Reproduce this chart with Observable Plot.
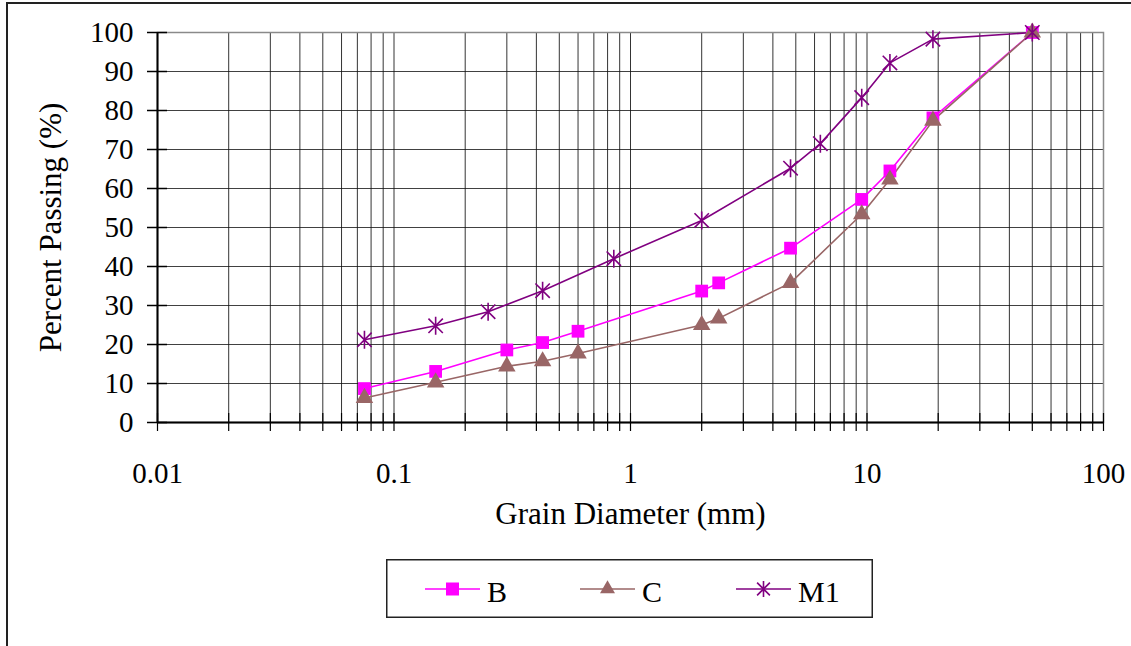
<!DOCTYPE html>
<html>
<head>
<meta charset="utf-8">
<script src="https://cdn.jsdelivr.net/npm/d3@7"></script>
<script src="https://cdn.jsdelivr.net/npm/@observablehq/plot@0.6"></script>
<style>
  html, body { margin: 0; padding: 0; background: #fff; overflow: hidden; width: 1131px; height: 646px; }
  #wrap { position: relative; width: 1131px; height: 646px; font-family: "Liberation Serif", "Times New Roman", serif; }
  #outer { position: absolute; left: 6px; top: 2px; width: 1300px; height: 800px; border: 2px solid #222; pointer-events: none; }
  #chart { position: absolute; left: 0; top: 0; }
  #legend { position: absolute; left: 386px; top: 559px; }
</style>
</head>
<body>
<div id="wrap">
  <div id="outer"></div>
  <div id="chart"></div>
  <div id="legend"></div>
</div>
<script>
// ---- Data ----
const sizesB   = [0.075, 0.15, 0.3, 0.425, 0.6, 2, 2.36, 4.75, 9.5, 12.5, 19, 50];
const valuesB  = [8.7, 13.1, 18.6, 20.5, 23.4, 33.7, 35.8, 44.7, 57.2, 64.5, 78.1, 100];
const sizesC   = [0.075, 0.15, 0.3, 0.425, 0.6, 2, 2.36, 4.75, 9.5, 12.5, 19, 50];
const valuesC  = [6.3, 10.3, 14.4, 15.7, 17.7, 25.0, 26.7, 35.8, 53.4, 62.3, 77.4, 100];
const sizesM1  = [0.075, 0.15, 0.25, 0.425, 0.85, 2, 4.75, 6.35, 9.5, 12.5, 19, 50];
const valuesM1 = [21.2, 24.8, 28.4, 33.8, 42.0, 51.8, 65.2, 71.5, 83.3, 92.2, 98.3, 100];

const seriesNames = ["B", "C", "M1"];
const xMajorTicks = [0.01, 0.1, 1, 10, 100];
const yTicks = [0, 10, 20, 30, 40, 50, 60, 70, 80, 90, 100];
const xLabel = "Grain Diameter (mm)";
const yLabel = "Percent Passing (%)";

// minor log ticks (1..9 per decade)
const xMinorTicks = [];
for (let i = 0; i < xMajorTicks.length - 1; i++) {
  for (let k = 1; k <= 9; k++) xMinorTicks.push(+(xMajorTicks[i] * k).toPrecision(3));
}
xMinorTicks.push(100);

const colors = {B: "#FF00FF", C: "#996666", M1: "#800080"};

// custom asterisk: X with vertical bar
const starSymbol = {
  draw(context, size) {
    const r = Math.sqrt(size / Math.PI);
    const d = r * 0.8;
    context.moveTo(-d, -d); context.lineTo(d, d);
    context.moveTo(-d, d); context.lineTo(d, -d);
    context.moveTo(0, -r); context.lineTo(0, r);
  }
};

const toRows = (xs, ys) => xs.map((x, i) => ({x, y: ys[i]}));
const dataB = toRows(sizesB, valuesB);
const dataC = toRows(sizesC, valuesC);
const dataM1 = toRows(sizesM1, valuesM1);

const gridX = xMinorTicks.filter(d => d > 0.01 && d < 100);
const gridY = yTicks.filter(d => d > 0 && d < 100);
const isMajor = d => xMajorTicks.some(m => Math.abs(m - d) / m < 1e-9);

const plot = Plot.plot({
  width: 1131,
  height: 540,
  marginLeft: 157,
  marginRight: 28,
  marginTop: 32,
  marginBottom: 118,
  style: {fontFamily: "'Liberation Serif', 'Times New Roman', serif", fontSize: "29px", background: "transparent", color: "#000"},
  x: {type: "log", domain: [0.01, 100], label: null},
  y: {domain: [0, 100], label: null},
  marks: [
    Plot.ruleX(gridX, {x: d => d, stroke: "#111", strokeWidth: 1, strokeOpacity: 0.85}),
    Plot.ruleY(gridY, {y: d => d, stroke: "#111", strokeWidth: 1, strokeOpacity: 0.8}),
    Plot.frame({stroke: "#8a8a8a", strokeWidth: 1.5}),
    Plot.ruleX([0.01], {stroke: "#000", strokeWidth: 2}),
    Plot.ruleY([0], {stroke: "#000", strokeWidth: 2}),
    // y axis: outward ticks + labels, inward ticks
    Plot.axisY({ticks: yTicks, tickSize: 10, tickPadding: 14, tickFormat: d => String(d), label: null, fontSize: 29, stroke: "#000", strokeWidth: 1.5}),
    Plot.axisY({ticks: yTicks, tickSize: -10, tickFormat: () => "", label: null, stroke: "#000", strokeWidth: 1.5}),
    // x axis: outward ticks + labels, inward ticks
    Plot.axisX({ticks: xMinorTicks, tickSize: 9, tickPadding: 31, tickFormat: d => isMajor(d) ? String(d) : "", label: null, fontSize: 29, stroke: "#000", strokeWidth: 1.2}),
    Plot.axisX({ticks: xMinorTicks, tickSize: -9, tickFormat: () => "", label: null, stroke: "#000", strokeWidth: 1.2}),
    // axis titles
    Plot.text([xLabel], {text: d => d, frameAnchor: "bottom", dy: 92, fontSize: 31, lineAnchor: "middle", textAnchor: "middle", fill: "#000"}),
    Plot.text([yLabel], {text: d => d, frameAnchor: "left", dx: -106, rotate: -90, fontSize: 31, lineAnchor: "middle", textAnchor: "middle", fill: "#000"}),
    // series
    Plot.line(dataB, {x: "x", y: "y", stroke: colors.B, strokeWidth: 1.6}),
    Plot.line(dataC, {x: "x", y: "y", stroke: colors.C, strokeWidth: 1.6}),
    Plot.line(dataM1, {x: "x", y: "y", stroke: colors.M1, strokeWidth: 1.6}),
    Plot.dot(dataB, {x: "x", y: "y", symbol: "square", r: 7.2, fill: colors.B, stroke: "none"}),
    Plot.dot(dataC, {x: "x", y: "y", symbol: "triangle", r: 6.5, fill: colors.C, stroke: "none"}),
    Plot.dot(dataM1, {x: "x", y: "y", symbol: starSymbol, r: 9, fill: "none", stroke: colors.M1, strokeWidth: 1.6})
  ]
});
document.getElementById("chart").appendChild(plot);

// ---- Legend ----
const lw = 487, lh = 59;
const lsvg = d3.select("#legend").append("svg")
  .attr("width", lw).attr("height", lh)
  .style("font-family", "'Liberation Serif', 'Times New Roman', serif");
lsvg.append("rect").attr("x", 0.75).attr("y", 0.75).attr("width", lw - 1.5).attr("height", lh - 1.5)
  .attr("fill", "#fff").attr("stroke", "#222").attr("stroke-width", 1.5);
const entries = [
  {name: seriesNames[0], x0: 39, sym: d3.symbolSquare, size: 13 * 13, fill: colors.B, stroke: "none"},
  {name: seriesNames[1], x0: 194, sym: d3.symbolTriangle, size: 15 * 15 * Math.sqrt(3) / 4, fill: colors.C, stroke: "none"},
  {name: seriesNames[2], x0: 350, sym: starSymbol, size: Math.PI * 8 * 8, fill: "none", stroke: colors.M1}
];
const ly = 30;
entries.forEach(e => {
  lsvg.append("line").attr("x1", e.x0).attr("x2", e.x0 + 55).attr("y1", ly).attr("y2", ly)
    .attr("stroke", colors[e.name]).attr("stroke-width", 1.6);
  lsvg.append("path").attr("d", d3.symbol(e.sym, e.size)())
    .attr("transform", `translate(${e.x0 + 27.5},${ly})`)
    .attr("fill", e.fill).attr("stroke", e.stroke).attr("stroke-width", 1.6);
  lsvg.append("text").attr("x", e.x0 + 62).attr("y", 43).attr("font-size", 30).attr("fill", "#000").text(e.name);
});
</script>
</body>
</html>
